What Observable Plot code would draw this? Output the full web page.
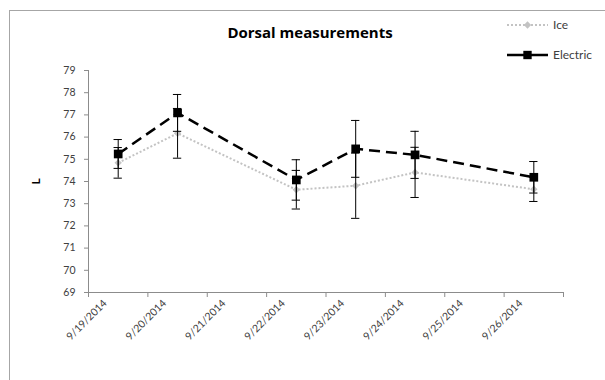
<!DOCTYPE html>
<html>
<head>
<meta charset="utf-8">
<script src="https://cdn.jsdelivr.net/npm/d3@7"></script>
<script src="https://cdn.jsdelivr.net/npm/@observablehq/plot@0.6"></script>
<style>
  body { margin: 0; width: 605px; height: 380px; overflow: hidden; background: #fff; position: relative; font-family: Lato, "Open Sans", sans-serif; }
  #frame { position: absolute; left: 9px; top: 10px; width: 700px; height: 500px; border: 1px solid #a6a6a6; box-sizing: border-box; }
  #chart { position: absolute; left: 0; top: 0; }
  #title { position: absolute; left: 0; width: 620px; top: 22px; text-align: center; font-weight: bold; font-size: 15px; color: #000; font-family: "Open Sans", Lato, sans-serif; }
  #legend { position: absolute; left: 500px; top: 12px; }
</style>
</head>
<body>
<div id="frame"></div>
<div id="chart"></div>
<div id="title">Dorsal measurements</div>
<div id="legend"></div>
<script>
// Calendar days on the category axis
const dayLabels = ["9/19/2014", "9/20/2014", "9/21/2014", "9/22/2014", "9/23/2014", "9/24/2014", "9/25/2014", "9/26/2014"];
// Days with measurements
const sampleDays = ["9/19/2014", "9/20/2014", "9/22/2014", "9/23/2014", "9/24/2014", "9/26/2014"];
// Ice series: mean L and error
const iceMean = [74.84, 76.17, 73.63, 73.81, 74.41, 73.65];
const iceErr = [0.69, 1.12, 0.87, 1.47, 1.13, 0.55];
// Electric series: mean L and error
const electricMean = [75.24, 77.09, 74.07, 75.47, 75.2, 74.19];
const electricErr = [0.65, 0.83, 0.91, 1.28, 1.06, 0.71];
// Value axis ticks
const yTicks = [69, 70, 71, 72, 73, 74, 75, 76, 77, 78, 79];

const seriesNames = ["Ice", "Electric"];
const seriesColors = ["#c3c3c3", "#000000"];

const rows = (name, means, errs) => sampleDays.map((d, k) => ({
  series: name, i: dayLabels.indexOf(d), mean: means[k], err: errs[k]
}));
const ice = rows("Ice", iceMean, iceErr);
const electric = rows("Electric", electricMean, electricErr);
const both = [...ice, ...electric];

// category boundaries carry the tick marks; labels sit at category centres
const bounds = d3.range(-0.5, dayLabels.length, 1);
const centres = d3.range(dayLabels.length);
const capHalf = 0.07;
const axisGray = "#8c8c8c";

const chart = Plot.plot({
  width: 605,
  height: 380,
  marginLeft: 88,
  marginRight: 42,
  marginTop: 70,
  marginBottom: 88,
  style: { fontFamily: "Lato, 'Open Sans', sans-serif", background: "transparent", overflow: "visible" },
  x: { domain: [-0.5, dayLabels.length - 0.5] },
  y: { domain: [yTicks[0], yTicks[yTicks.length - 1]] },
  marks: [
    Plot.ruleX([-0.5], { stroke: axisGray }),
    Plot.ruleY([yTicks[0]], { stroke: axisGray }),
    Plot.axisY({ ticks: yTicks, tickSize: 4, tickPadding: 9, stroke: axisGray, fill: "#404040", fontSize: 10.5, label: null }),
    Plot.axisY({ ticks: [], label: "L", labelAnchor: "center", labelOffset: 57, labelArrow: "none", fill: "#000", fontSize: 12, fontWeight: "bold" }),
    Plot.axisX({ ticks: bounds, tickFormat: () => "", tickSize: 5, stroke: axisGray, label: null }),
    Plot.axisX({ ticks: centres, tickFormat: i => dayLabels[i], tickRotate: -45, tickSize: 0, tickPadding: 9, dx: -13, fill: "#404040", fontSize: 10.5, label: null }),
    Plot.line(ice, { x: "i", y: "mean", stroke: seriesColors[0], strokeWidth: 2, strokeDasharray: "2,2", strokeLinecap: "butt" }),
    Plot.line(electric, { x: "i", y: "mean", stroke: seriesColors[1], strokeWidth: 2.5, strokeDasharray: "11,6", strokeLinecap: "butt" }),
    Plot.dot(ice, { x: "i", y: "mean", symbol: "diamond2", r: 3.3, fill: seriesColors[0] }),
    Plot.ruleX(both, { x: "i", y1: d => d.mean - d.err, y2: d => d.mean + d.err, stroke: "#000", strokeWidth: 1 }),
    Plot.ruleY(both, { y: d => d.mean + d.err, x1: d => d.i - capHalf, x2: d => d.i + capHalf, stroke: "#000", strokeWidth: 1 }),
    Plot.ruleY(both, { y: d => d.mean - d.err, x1: d => d.i - capHalf, x2: d => d.i + capHalf, stroke: "#000", strokeWidth: 1 }),
    Plot.dot(electric, { x: "i", y: "mean", symbol: "square", r: 4.9, fill: seriesColors[1] })
  ]
});
document.getElementById("chart").append(chart);

// legend: line sample with marker, then series name
const leg = d3.select("#legend").append("svg").attr("width", 105).attr("height", 60);
const item = leg.selectAll("g").data(seriesNames).join("g")
  .attr("transform", (d, k) => `translate(0,${13 + k * 30})`);
item.append("line").attr("x1", 7).attr("x2", 48)
  .attr("stroke", (d, k) => seriesColors[k])
  .attr("stroke-width", (d, k) => k ? 2.5 : 2)
  .attr("stroke-dasharray", (d, k) => k ? null : "2,2");
item.append("path")
  .attr("transform", "translate(27.5,0)")
  .attr("d", (d, k) => d3.symbol(k ? d3.symbolSquare : d3.symbolDiamond2, k ? 70 : 34)())
  .attr("fill", (d, k) => seriesColors[k]);
item.append("text").attr("x", 53).attr("dy", "0.35em")
  .attr("font-size", 12).attr("fill", "#404040")
  .attr("font-family", "Lato, 'Open Sans', sans-serif")
  .text(d => d);
</script>
</body>
</html>
